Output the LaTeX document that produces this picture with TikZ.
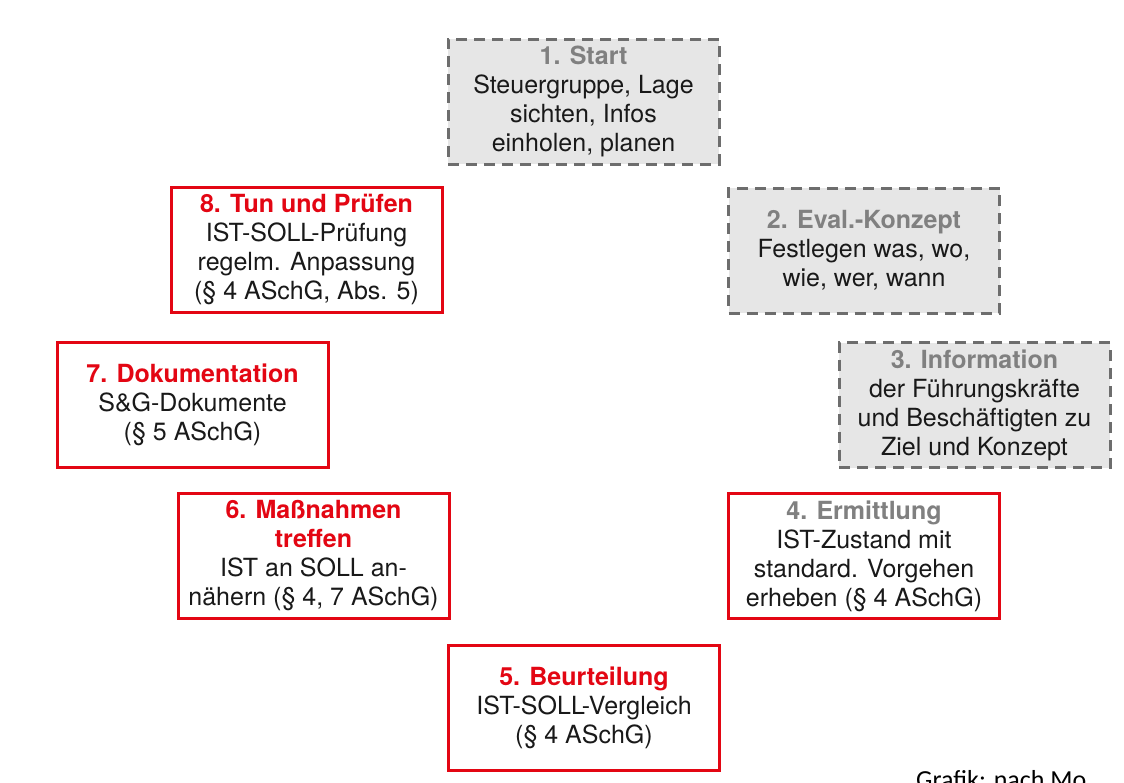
\documentclass[tikz,border=0pt]{standalone}
\usepackage{fontspec}
\setmainfont{TeX Gyre Heros}
\newfontfamily\notefont{Carlito}
\definecolor{stepred}{RGB}{227,6,19}
\definecolor{stepgray}{RGB}{128,128,128}
\definecolor{boxfill}{RGB}{230,230,230}
\tikzset{
  phase/.style={minimum width=271pt, minimum height=125pt, inner sep=0pt,
    align=center, font=\fontsize{25}{29}\selectfont, text=black!90},
  openphase/.style={phase, draw=stepgray!85!black, fill=boxfill, line width=3pt,
    dash pattern=on 11pt off 7pt},
  donephase/.style={phase, draw=stepred, fill=white, line width=3pt}
}
\newcommand{\titlegray}[1]{{\bfseries\color{stepgray}#1}}
\newcommand{\titlered}[1]{{\bfseries\color{stepred}#1}}
\begin{document}
\begin{tikzpicture}[x=1pt, y=-1pt]
\useasboundingbox (0,0) rectangle (1124,782);
\clip (0,0) rectangle (1124,782);
% planning steps (dashed)
\node [openphase] (start) at (583.5,101.5) {\titlegray{1. Start}\\Steuergruppe, Lage\\sichten, Infos\\einholen, planen};
\node [openphase] (konzept) at (864,250.5) {\titlegray{2. Eval.-Konzept}\\Festlegen was, wo,\\wie, wer, wann};
\node [openphase] (info) at (974.5,405) {\titlegray{3. Information}\\der Führungskräfte\\und Beschäftigten zu\\Ziel und Konzept};
% steps of the assessment
\node [donephase] (ermittlung) at (864,556) {\titlegray{4. Ermittlung}\\IST-Zustand mit\\standard. Vorgehen\\erheben (§ 4 ASchG)};
\node [donephase] (beurteilung) at (584,708) {\titlered{5. Beurteilung}\\IST-SOLL-Vergleich\\(§ 4 ASchG)};
\node [donephase] (massnahmen) at (313.5,556) {\titlered{6. Maßnahmen}\\\titlered{treffen}\\IST an SOLL an-\\nähern (§ 4, 7 ASchG)};
\node [donephase] (doku) at (192.5,404.5) {\titlered{7. Dokumentation}\\S\&G-Dokumente\\(§ 5 ASchG)};
\node [donephase] (pruefen) at (306.5,249.5) {\titlered{8. Tun und Prüfen}\\IST-SOLL-Prüfung\\regelm. Anpassung\\(§ 4 ASchG, Abs. 5)};
% source note, cut at the lower edge
\node [anchor=base west, inner sep=0pt, font=\notefont\fontsize{26}{30}\selectfont] (quelle) at (916,788) {Grafik: nach Mo};
\end{tikzpicture}
\end{document}
